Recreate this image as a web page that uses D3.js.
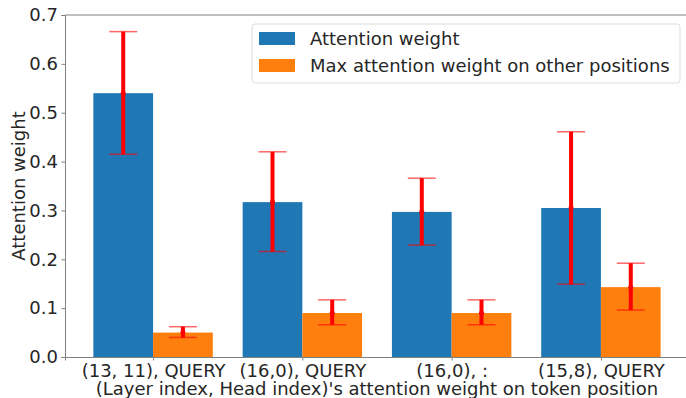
<!DOCTYPE html>
<html>
<head>
<meta charset="utf-8">
<script src="https://cdn.jsdelivr.net/npm/d3@7"></script>
<style>
  body { margin: 0; background: #fff; }
  svg text { font-family: "DejaVu Sans", sans-serif; fill: #262626; }
</style>
</head>
<body>
<div id="chart"></div>
<script>
// Categories and series
const categories = ["(13, 11), QUERY", "(16,0), QUERY", "(16,0), :", "(15,8), QUERY"];
const seriesNames = ["Attention weight", "Max attention weight on other positions"];
const attnMean = [0.540, 0.317, 0.297, 0.305];
const attnLow = [0.415, 0.216, 0.229, 0.149];
const attnHigh = [0.666, 0.420, 0.366, 0.461];
const otherMean = [0.050, 0.090, 0.090, 0.143];
const otherLow = [0.040, 0.066, 0.066, 0.096];
const otherHigh = [0.062, 0.117, 0.117, 0.192];
const yTicks = [0.0, 0.1, 0.2, 0.3, 0.4, 0.5, 0.6, 0.7];

const colors = ["#1f77b4", "#ff7f0e"];

const W = 686, H = 398;
const margin = { top: 15, right: -3, bottom: 41, left: 65 };
const width = W - margin.left - margin.right;
const height = H - margin.top - margin.bottom;

const svg = d3.select("#chart").append("svg")
    .attr("width", W)
    .attr("height", H);

const g = svg.append("g")
    .attr("transform", "translate(" + margin.left + "," + margin.top + ")");

// x as linear over category index, like matplotlib's bar positions
const x = d3.scaleLinear().domain([-0.59, 3.59]).range([0, width]);
const y = d3.scaleLinear().domain([0, 0.7]).range([height, 0]);
const barW = x(0.4) - x(0);

const series = [
    { name: seriesNames[0], mean: attnMean, low: attnLow, high: attnHigh, off: -0.2, color: colors[0] },
    { name: seriesNames[1], mean: otherMean, low: otherLow, high: otherHigh, off: 0.2, color: colors[1] }
];

// bars
series.forEach(s => {
    g.append("g").selectAll("rect")
        .data(categories)
        .enter().append("rect")
        .attr("x", (d, i) => x(i + s.off) - barW / 2)
        .attr("y", (d, i) => y(s.mean[i]))
        .attr("width", barW)
        .attr("height", (d, i) => y(0) - y(s.mean[i]))
        .attr("fill", s.color);
});

// error bars
series.forEach(s => {
    const eg = g.append("g").selectAll("g")
        .data(categories)
        .enter().append("g");
    eg.append("line")
        .attr("x1", (d, i) => x(i + s.off))
        .attr("x2", (d, i) => x(i + s.off))
        .attr("y1", (d, i) => y(s.low[i]))
        .attr("y2", (d, i) => y(s.high[i]))
        .attr("stroke", "red")
        .attr("stroke-width", 4);
    ["low", "high"].forEach(k => {
        eg.append("line")
            .attr("x1", (d, i) => x(i + s.off) - 14)
            .attr("x2", (d, i) => x(i + s.off) + 14)
            .attr("y1", (d, i) => y(s[k][i]))
            .attr("y2", (d, i) => y(s[k][i]))
            .attr("stroke", "red")
            .attr("stroke-opacity", 0.6)
            .attr("stroke-width", 1.5);
    });
    eg.append("circle")
        .attr("cx", (d, i) => x(i + s.off))
        .attr("cy", (d, i) => y(s.mean[i]))
        .attr("r", 2.5)
        .attr("fill", "red");
});

// y axis
const yAxis = g.append("g")
    .call(d3.axisLeft(y).tickValues(yTicks).tickFormat(d3.format(".1f")).tickSize(3.5).tickPadding(3.5));
yAxis.selectAll("text").style("font-size", "18px").attr("fill", "#262626");
yAxis.selectAll("line").attr("stroke", "#808080");
yAxis.select(".domain").attr("stroke", "#808080");

// x axis
const xAxis = g.append("g")
    .attr("transform", "translate(0," + height + ")")
    .call(d3.axisBottom(x).tickValues(d3.range(categories.length)).tickFormat(i => categories[i]).tickSize(3.5).tickPadding(3.5));
xAxis.selectAll("text").style("font-size", "18px").attr("fill", "#262626");
xAxis.selectAll("line").attr("stroke", "#808080");
xAxis.select(".domain").attr("stroke", "#808080");

// top spine
g.append("line")
    .attr("x1", 0).attr("x2", width)
    .attr("y1", 0).attr("y2", 0)
    .attr("stroke", "#808080");

// axis labels
g.append("text")
    .attr("transform", "rotate(-90)")
    .attr("x", -height / 2)
    .attr("y", -margin.left + 25)
    .attr("text-anchor", "middle")
    .style("font-size", "18px")
    .text("Attention weight");

g.append("text")
    .attr("x", width / 2)
    .attr("y", height + 38)
    .attr("text-anchor", "middle")
    .style("font-size", "18px")
    .text("(Layer index, Head index)'s attention weight on token position");

// legend
const legend = svg.append("g").attr("transform", "translate(252,24)");
legend.append("rect")
    .attr("width", 428).attr("height", 59)
    .attr("rx", 3)
    .attr("fill", "#fff")
    .attr("fill-opacity", 0.8)
    .attr("stroke", "#dcdcdc");
seriesNames.forEach((name, i) => {
    legend.append("rect")
        .attr("x", 7).attr("y", 8 + i * 27)
        .attr("width", 36).attr("height", 13)
        .attr("fill", colors[i]);
    legend.append("text")
        .attr("x", 58).attr("y", 21 + i * 27)
        .style("font-size", "18px")
        .text(name);
});
</script>
</body>
</html>
